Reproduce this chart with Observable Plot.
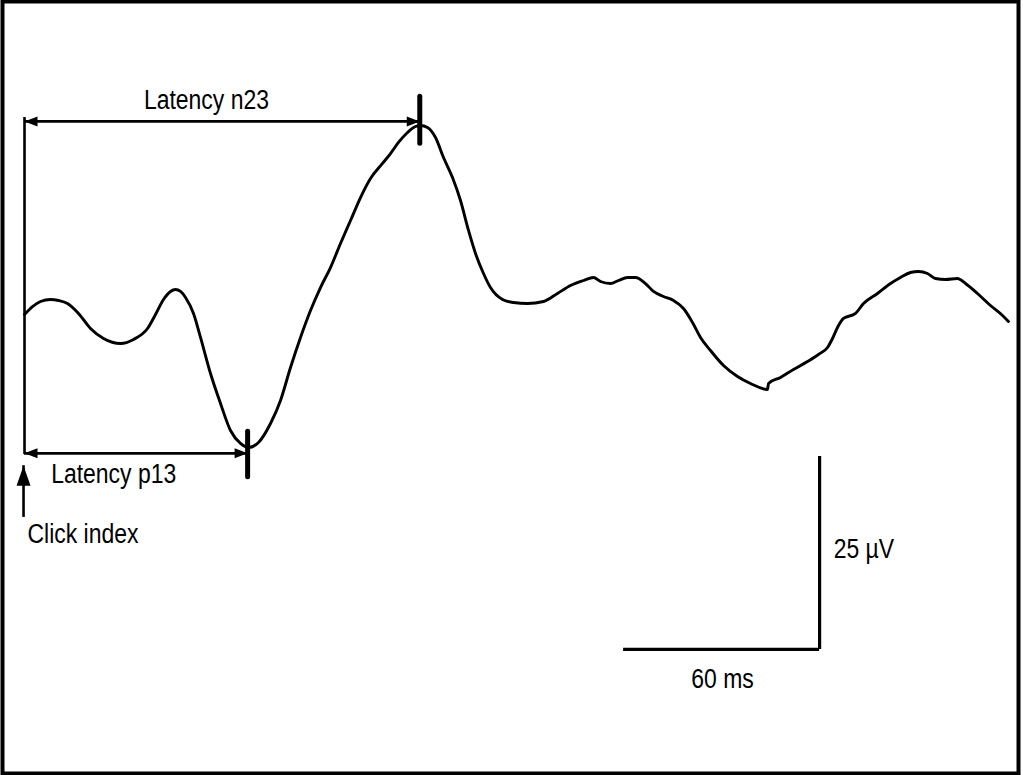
<!DOCTYPE html>
<html>
<head>
<meta charset="utf-8">
<script src="https://cdn.jsdelivr.net/npm/d3@7"></script>
<script src="https://cdn.jsdelivr.net/npm/@observablehq/plot@0.6"></script>
<style>
  html, body { margin: 0; padding: 0; background: #fff; }
  #chart svg { display: block; }
</style>
</head>
<body>
<div id="chart"></div>
<script>
// Waveform: time (ms, 0 = click) and amplitude (µV)
const time = [0, 2.45, 4.90, 7.96, 10.41, 13.16, 16.53, 20.20, 24.18, 29.39, 33.37, 37.65, 40.10, 42.55, 44.69, 46.22, 47.76, 49.29, 51.73, 53.88, 56.94, 60.00, 63.06, 66.12, 68.57, 71.63, 75.31, 78.37, 81.43, 84.49, 87.55, 90.61, 93.67, 96.73, 99.80, 102.86, 105.92, 109.59, 112.04, 114.49, 117.24, 119.69, 121.22, 123.37, 125.82, 128.27, 131.02, 133.47, 135.92, 138.06, 140.51, 142.65, 146.33, 149.69, 153.98, 158.88, 163.16, 167.14, 171.12, 174.18, 176.33, 179.39, 181.84, 184.59, 187.04, 190.10, 192.55, 195.61, 198.67, 201.73, 204.49, 206.94, 210.00, 213.98, 218.27, 222.24, 227.45, 227.76, 231.43, 235.41, 239.69, 243.06, 245.82, 247.35, 248.88, 250.71, 254.39, 256.84, 261.12, 265.10, 268.16, 271.22, 273.67, 276.43, 278.88, 281.94, 285.61, 288.06, 291.73, 295.71, 299.39, 301.22];
const amplitude = [-1.81, -0.78, -0.13, 0.13, 0, -0.39, -1.68, -3.63, -4.92, -5.57, -5.05, -3.63, -1.81, 0.13, 1.17, 1.42, 1.17, 0.39, -1.68, -4.79, -9.46, -13.34, -16.84, -18.52, -19.04, -18.39, -15.93, -12.95, -8.68, -4.79, -1.30, 1.68, 4.27, 7.38, 10.36, 13.34, 15.80, 17.75, 19.04, 20.47, 21.76, 22.54, 22.67, 22.41, 21.11, 18.52, 15.93, 12.95, 9.07, 6.09, 3.50, 1.68, 0.13, -0.26, -0.39, -0.13, 0.91, 1.94, 2.59, 2.98, 2.46, 2.20, 2.59, 2.98, 2.98, 2.20, 1.17, 0.52, 0, -1.04, -2.85, -4.79, -6.48, -8.42, -9.84, -10.75, -11.53, -10.75, -9.97, -8.94, -7.90, -6.99, -6.09, -4.92, -3.50, -2.33, -1.68, -0.39, 0.91, 2.20, 2.98, 3.63, 3.76, 3.50, 2.85, 2.72, 2.85, 2.20, 0.91, -0.65, -1.94, -2.72];

// Latency markers (ms) and the heights (µV) of their measuring arrows and ticks
const latencyNames = ["n23", "p13"];
const latencyTimes = [121.0, 68.3];
const latencyArrowLevels = [23.2, -19.8];
const latencyTickTops = [26.4, -17.0];
const latencyTickBottoms = [20.3, -22.9];

// Click index line (t = 0)
const clickLine = {t: 0, top: 23.7, bottom: -19.95};
const clickArrow = {t: -0.3, tail: -28.1, tip: -21.4};

// Calibration bar: 60 ms x 25 µV, corner at (t, v)
const scaleBar = {t: 243.4, v: -45.2, ms: 60, uv: 25};

// Text labels
const labelTexts = ["Latency n23", "Latency p13", "Click index", "25 \u00b5V", "60 ms"];
const labelTimes = [55.7, 27.3, 0.9, 247.7, 213.7];
const labelLevels = [25.94, -22.50, -30.27, -32.21, -49.05];
const labelAnchors = ["middle", "middle", "start", "start", "middle"];

const wave = time.map((t, i) => ({t, v: amplitude[i]}));
const latencies = latencyNames.map((name, i) => ({
  name, t: latencyTimes[i], level: latencyArrowLevels[i],
  top: latencyTickTops[i], bottom: latencyTickBottoms[i]
}));
const labels = labelTexts.map((text, i) => ({text, t: labelTimes[i], v: labelLevels[i], anchor: labelAnchors[i]}));

// arrowhead symbols, tip at the origin, pointing up (rotate to aim)
const smallHead = {draw(ctx) { ctx.moveTo(0, 0); ctx.lineTo(-5, 13); ctx.lineTo(5, 13); ctx.closePath(); }};
const bigHead = {draw(ctx) { ctx.moveTo(0, 0); ctx.lineTo(-7, 20); ctx.lineTo(7, 20); ctx.closePath(); }};

const arrowHeads = [];
latencies.forEach(d => {
  arrowHeads.push({t: clickLine.t, v: d.level, rot: -90});
  arrowHeads.push({t: d.t, v: d.level, rot: 90});
});

const font = "'Liberation Sans', Arial, sans-serif";
const textStyle = {x: "t", y: "v", text: "text", fontSize: 27, fill: "black", fontFamily: font};

const chart = Plot.plot({
  width: 1023,
  height: 775,
  margin: 0,
  x: {domain: [-7.35, 305.82], axis: null},
  y: {domain: [-61.53, 38.86], axis: null},
  style: {background: "white", fontFamily: font},
  marks: [
    Plot.frame({stroke: "black", strokeWidth: 4, insetLeft: 2, insetTop: 1, insetRight: 5, insetBottom: 2}),
    // waveform
    Plot.line(wave, {x: "t", y: "v", curve: "monotone-x", stroke: "black", strokeWidth: 2.9}),
    // click index vertical
    Plot.ruleX([clickLine], {x: "t", y1: "top", y2: "bottom", stroke: "black", strokeWidth: 2.6}),
    // latency arrows
    Plot.ruleY(latencies, {y: "level", x1: () => clickLine.t, x2: "t", stroke: "black", strokeWidth: 2.7}),
    Plot.dot(arrowHeads, {x: "t", y: "v", rotate: "rot", symbol: smallHead, fill: "black", stroke: null}),
    // latency ticks
    Plot.ruleX(latencies, {x: "t", y1: "top", y2: "bottom", stroke: "black", strokeWidth: 5, strokeLinecap: "round"}),
    // click index arrow
    Plot.ruleX([clickArrow], {x: "t", y1: "tail", y2: "tip", stroke: "black", strokeWidth: 2.6}),
    Plot.dot([clickArrow], {x: "t", y: "tip", symbol: bigHead, fill: "black", stroke: null}),
    // calibration bar
    Plot.ruleX([scaleBar], {x: "t", y1: "v", y2: d => d.v + d.uv, stroke: "black", strokeWidth: 3.2}),
    Plot.ruleY([scaleBar], {y: "v", x1: d => d.t - d.ms, x2: "t", stroke: "black", strokeWidth: 3.2}),
    // labels
    Plot.text(labels.filter(d => d.anchor === "middle"), {...textStyle, textAnchor: "middle"}),
    Plot.text(labels.filter(d => d.anchor === "start"), {...textStyle, textAnchor: "start"})
  ]
});
document.getElementById("chart").appendChild(chart);

// condense the labels horizontally (the original uses a narrow sans face)
d3.select(chart).selectAll("text").each(function () {
  const w = this.getComputedTextLength();
  if (w > 0) {
    this.setAttribute("textLength", (w * 0.85).toFixed(1));
    this.setAttribute("lengthAdjust", "spacingAndGlyphs");
  }
});
</script>
</body>
</html>
